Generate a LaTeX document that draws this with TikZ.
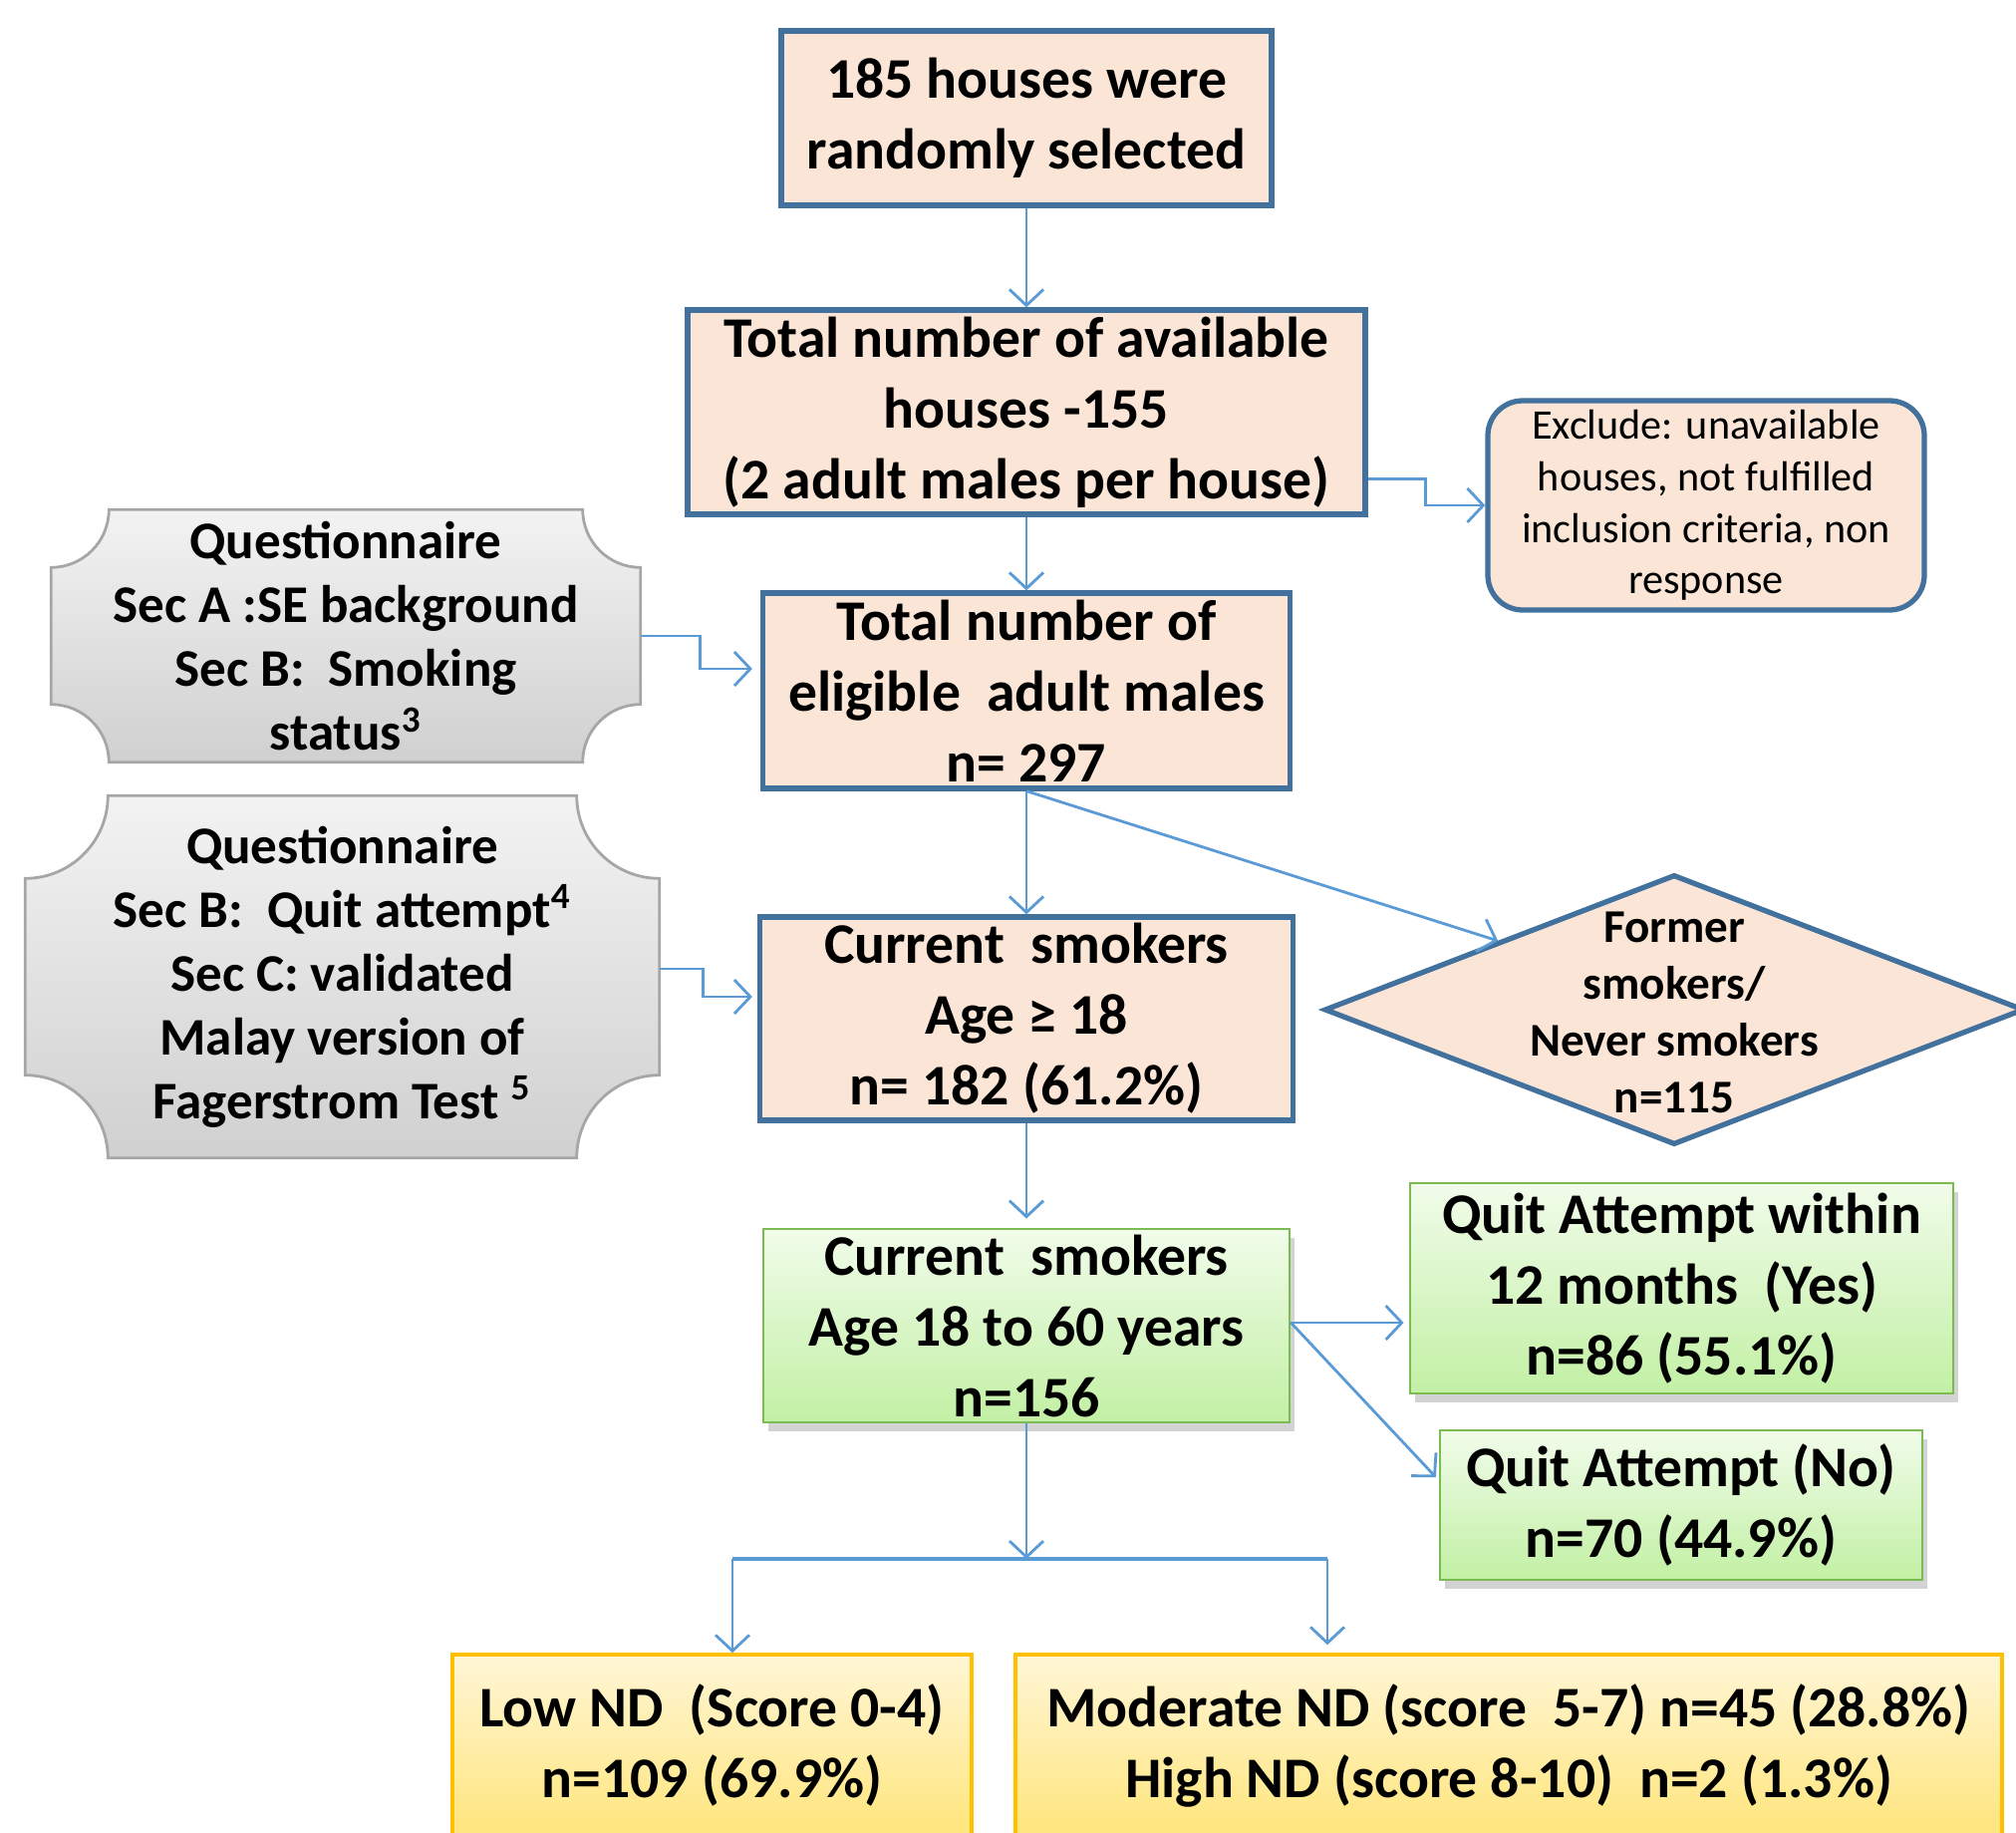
\documentclass[tikz,border=0pt]{standalone}
\usepackage{fontspec}
\setmainfont{Carlito}
\usetikzlibrary{shapes.geometric,arrows.meta,shadows,backgrounds,calc}

\definecolor{peach}{HTML}{FBE5D6}
\definecolor{boxblue}{HTML}{41719C}
\definecolor{arrowblue}{HTML}{5B9BD5}
\definecolor{greentop}{HTML}{F1FCEA}
\definecolor{greenbot}{HTML}{C2F0A4}
\definecolor{greenline}{HTML}{7ABB52}
\definecolor{yellowtop}{HTML}{FFF6D6}
\definecolor{yellowbot}{HTML}{FFE57C}
\definecolor{yellowline}{HTML}{FFC000}
\definecolor{plaqtop}{HTML}{F3F3F3}
\definecolor{plaqbot}{HTML}{D0D0D0}
\definecolor{plaqline}{HTML}{A6A6A6}

% plaque outline behind a text node: #1 node name, #2 corner radius
\newcommand{\plaquebox}[2]{%
	\begin{pgfonlayer}{background}
		\path[fill=black,opacity=0.25,xshift=0.6mm,yshift=-1mm]
			let \p1=(#1.south west), \p2=(#1.north east) in
			(\x1+#2,\y2) -- (\x2-#2,\y2) arc[start angle=180,end angle=270,radius=#2]
			-- (\x2,\y1+#2) arc[start angle=90,end angle=180,radius=#2]
			-- (\x1+#2,\y1) arc[start angle=0,end angle=90,radius=#2]
			-- (\x1,\y2-#2) arc[start angle=270,end angle=360,radius=#2] -- cycle;
		\path[top color=plaqtop,bottom color=plaqbot,draw=plaqline,line width=0.8pt]
			let \p1=(#1.south west), \p2=(#1.north east) in
			(\x1+#2,\y2) -- (\x2-#2,\y2) arc[start angle=180,end angle=270,radius=#2]
			-- (\x2,\y1+#2) arc[start angle=90,end angle=180,radius=#2]
			-- (\x1+#2,\y1) arc[start angle=0,end angle=90,radius=#2]
			-- (\x1,\y2-#2) arc[start angle=270,end angle=360,radius=#2] -- cycle;
	\end{pgfonlayer}}

\begin{document}
\begin{tikzpicture}

	\tikzstyle{box}=[fill=peach,draw=boxblue,line width=1.5pt,
		align=center,inner sep=0pt,
		font=\fontsize{16.4}{20.2}\selectfont\bfseries]
	\tikzstyle{greenbox}=[top color=greentop,bottom color=greenbot,
		draw=greenline,line width=0.8pt,
		drop shadow={opacity=0.35,shadow xshift=0.5mm,shadow yshift=-0.9mm},
		align=center,inner sep=0pt,
		font=\fontsize{16.4}{20.2}\selectfont\bfseries]
	\tikzstyle{yellowbox}=[top color=yellowtop,bottom color=yellowbot,
		draw=yellowline,line width=1pt,
		align=center,inner sep=0pt,
		font=\fontsize{16.4}{20.2}\selectfont\bfseries]
	\tikzstyle{plaque}=[align=center,inner sep=0pt,
		font=\fontsize{15.1}{18.2}\selectfont\bfseries]
	\tikzstyle{flow}=[draw=arrowblue,line width=0.8pt,
		-{Straight Barb[length=1.6mm,width=3.4mm]}]

	\useasboundingbox (0,0) rectangle (20.23,-18.39);

	% main column
	\node[box,minimum width=4.92cm,minimum height=1.75cm]	(12)	at (10.30,-1.185)	{185 houses were\\randomly selected};
	\node[box,minimum width=6.80cm,minimum height=2.05cm]	(22)	at (10.30,-4.135)	{Total number of available\\houses -155\\ (2 adult males per house)};
	\node[box,minimum width=5.29cm,minimum height=1.96cm]	(32)	at (10.30,-6.93)	{Total number of\\eligible\ \ adult males\\n= 297};
	\node[box,minimum width=5.35cm,minimum height=2.04cm]	(42)	at (10.30,-10.22)	{Current\ \ smokers\\Age ≥ 18\\n= 182 (61.2\%)};
	\node[greenbox,minimum width=5.28cm,minimum height=1.94cm]	(52)	at (10.30,-13.30)	{Current\ \ smokers\\Age 18 to 60 years\\n=156};

	% right side
	\node[box,rounded corners=3.5mm,minimum width=4.38cm,minimum height=2.10cm,
		font=\fontsize{12}{14.7}\selectfont]	(23)	at (17.12,-5.07)	{Exclude: unavailable\\houses, not fulfilled\\inclusion criteria, non\\response};
	\node[diamond,fill=peach,draw=boxblue,line width=1.5pt,inner sep=0pt,
		minimum width=7.02cm,minimum height=2.71cm,
		label={[align=center,font=\fontsize{13.4}{16.2}\selectfont\bfseries,yshift=-0.3mm]center:{Former\\smokers/\\Never smokers\\n=115}}]	(43)	at (16.80,-10.13)	{};
	\node[greenbox,minimum width=5.45cm,minimum height=2.11cm]	(53)	at (16.875,-12.925)	{Quit Attempt within\\12 months\ \ (Yes)\\n=86 (55.1\%)};
	\node[greenbox,minimum width=4.84cm,minimum height=1.50cm]	(63)	at (16.87,-15.10)	{Quit Attempt (No)\\n=70 (44.9\%)};

	% questionnaires
	\node[plaque,minimum width=5.90cm,minimum height=2.52cm]	(31)	at (3.47,-6.38)	{Questionnaire\\Sec A :SE background\\Sec B:\ \ Smoking\\status\textsuperscript{3}};
	\node[plaque,minimum width=6.35cm,minimum height=3.62cm]	(41)	at (3.435,-9.80)	{Questionnaire\\Sec B:\ \ Quit attempt\textsuperscript{4}\\Sec C: validated\\Malay version of\\Fagerstrom Test \textsuperscript{5}};
	\plaquebox{31}{0.58cm}
	\plaquebox{41}{0.83cm}

	% nicotine dependence
	\node[yellowbox,minimum width=5.21cm,minimum height=1.82cm]	(71)	at (7.145,-17.51)	{Low ND\ \ (Score 0-4)\\n=109 (69.9\%)};
	\node[yellowbox,minimum width=9.90cm,minimum height=1.82cm]	(72)	at (15.14,-17.51)	{Moderate ND (score\ \ 5-7) n=45 (28.8\%)\\High ND (score 8-10)\ \ n=2 (1.3\%)};

	\coordinate (split)	at (10.30,-15.64);
	\coordinate (splitl)	at (7.35,-15.64);
	\coordinate (splitr)	at (13.32,-15.64);

	% connectors
	\draw[flow] (12) -- (22);
	\draw[flow] ([yshift=-6.7mm]22.east) -- ++(0.58,0) |- (23.west);
	\draw[flow] (22) -- (32);
	\draw[flow,shorten >=0.8mm] (31.east) -- ++(0.6,0) |- ([yshift=2.2mm]32.west);
	\draw[flow] (32) -- (42);
	\draw[flow] (32.south) -- ($(43.west)!0.5!(43.north)$);
	\draw[flow,shorten >=0.5mm] ([yshift=0.8mm]41.east) -- ++(0.44,0) |- ([yshift=2.2mm]42.west);
	\draw[flow,shorten >=0.9mm] (42) -- (52);
	\draw[flow,shorten >=0.5mm] ([yshift=0.3mm]52.east) -- ([yshift=0.3mm]52.east -| 53.west);
	\draw[flow,shorten >=0.4mm] ([yshift=0.3mm]52.east) -- ([yshift=2.5mm]63.west);
	\draw[flow] (52) -- (split);
	\draw[arrowblue,line width=1.1pt] (splitl) -- (splitr);
	\draw[flow] (splitl) -- (splitl |- 71.north);
	\draw[flow,shorten >=0.8mm] (splitr) -- (splitr |- 72.north);

\end{tikzpicture}
\end{document}
